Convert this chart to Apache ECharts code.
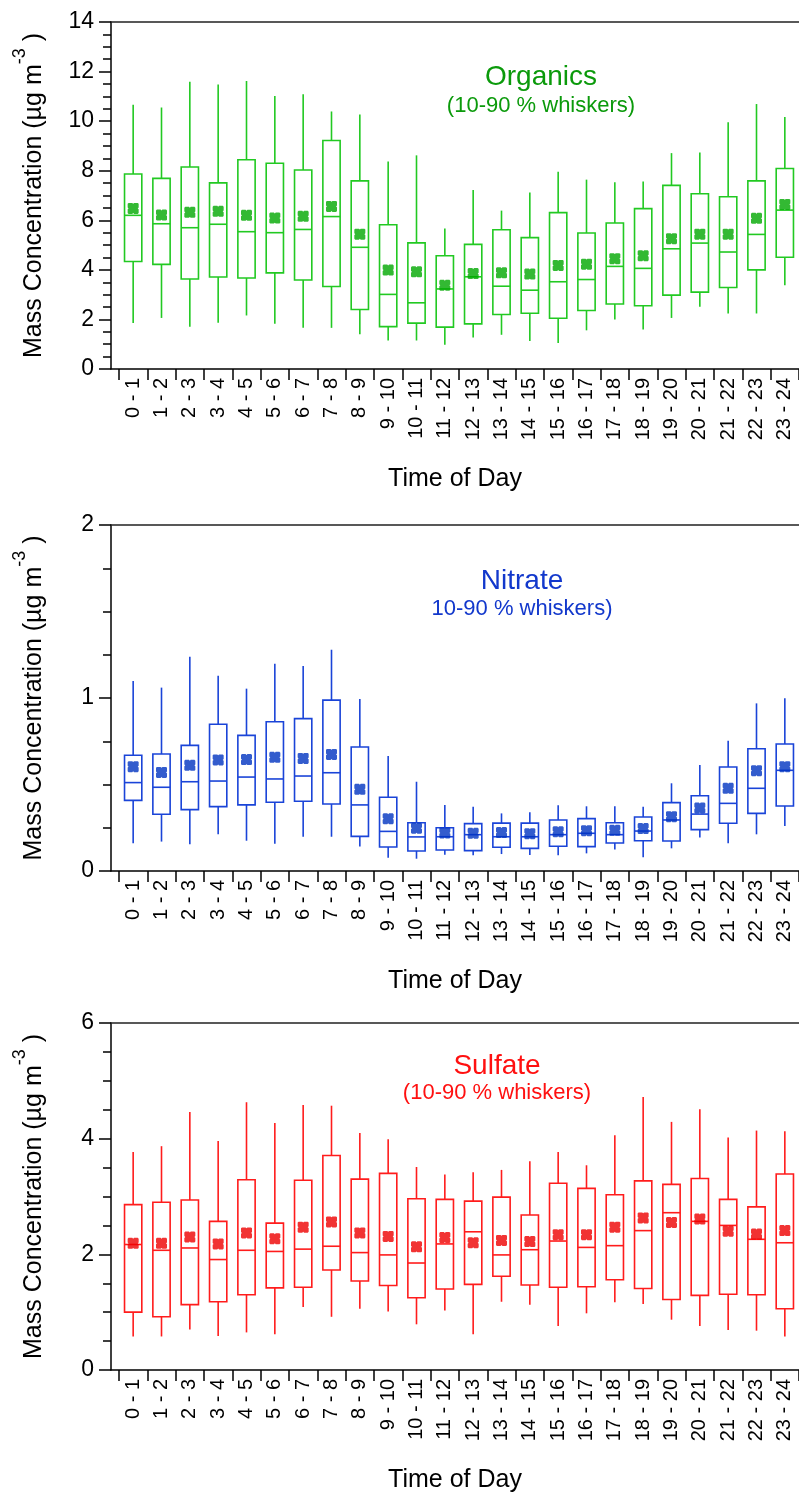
<!DOCTYPE html>
<html>
<head>
<meta charset="utf-8">
<script src="https://cdn.jsdelivr.net/npm/echarts@6/dist/echarts.min.js"></script>
<style>html,body{margin:0;padding:0;background:#fff}#chart{width:799px;height:1495px}</style>
</head>
<body>
<div id="chart"></div>
<script>
// ---------------- data ----------------
const hours = ['0 - 1','1 - 2','2 - 3','3 - 4','4 - 5','5 - 6','6 - 7','7 - 8','8 - 9','9 - 10','10 - 11','11 - 12',
  '12 - 13','13 - 14','14 - 15','15 - 16','16 - 17','17 - 18','18 - 19','19 - 20','20 - 21','21 - 22','22 - 23','23 - 24'];

const orgP90  = [10.66,10.55,11.59,11.48,11.62,11.01,11.09,10.39,10.27,8.37,8.62,5.67,7.22,6.39,7.12,7.96,7.64,7.53,7.56,8.71,8.73,9.96,10.69,10.17];
const orgQ3   = [7.87,7.69,8.15,7.51,8.44,8.30,8.03,9.22,7.59,5.82,5.09,4.57,5.03,5.62,5.30,6.31,5.49,5.89,6.47,7.41,7.07,6.95,7.59,8.09];
const orgMed  = [6.20,5.86,5.70,5.84,5.54,5.50,5.63,6.15,4.91,3.01,2.67,3.23,3.72,3.34,3.18,3.52,3.61,4.14,4.06,4.85,5.08,4.72,5.43,6.41];
const orgQ1   = [4.34,4.22,3.63,3.71,3.67,3.88,3.59,3.33,2.40,1.71,1.85,1.69,1.82,2.20,2.25,2.05,2.36,2.62,2.55,2.98,3.10,3.29,4.00,4.51];
const orgP10  = [1.86,2.06,1.70,1.87,2.16,1.83,1.66,1.66,1.40,1.15,1.15,0.98,1.27,1.38,1.13,1.05,1.56,2.00,1.59,2.06,2.51,2.24,2.24,3.38];
const orgMean = [6.48,6.21,6.32,6.36,6.20,6.09,6.16,6.56,5.44,3.99,3.92,3.38,3.85,3.88,3.83,4.18,4.23,4.45,4.57,5.26,5.44,5.44,6.08,6.64];

const no3P90  = [1.098,1.060,1.239,1.129,1.054,1.198,1.185,1.279,0.994,0.665,0.516,0.382,0.372,0.333,0.339,0.380,0.374,0.374,0.372,0.507,0.613,0.753,0.969,0.998];
const no3Q3   = [0.669,0.676,0.726,0.848,0.784,0.863,0.881,0.988,0.717,0.426,0.279,0.250,0.274,0.277,0.277,0.295,0.303,0.279,0.312,0.395,0.435,0.601,0.707,0.734];
const no3Med  = [0.511,0.484,0.516,0.520,0.543,0.532,0.549,0.568,0.382,0.229,0.197,0.198,0.210,0.198,0.198,0.210,0.218,0.210,0.231,0.295,0.329,0.391,0.478,0.582];
const no3Q1   = [0.408,0.328,0.355,0.372,0.382,0.397,0.403,0.387,0.200,0.139,0.116,0.121,0.118,0.137,0.131,0.143,0.141,0.162,0.175,0.173,0.239,0.276,0.333,0.376];
const no3P10  = [0.160,0.170,0.154,0.212,0.175,0.158,0.198,0.198,0.141,0.077,0.071,0.094,0.091,0.098,0.092,0.091,0.102,0.125,0.079,0.131,0.193,0.160,0.212,0.260];
const no3Mean = [0.603,0.570,0.611,0.642,0.644,0.657,0.651,0.674,0.472,0.302,0.247,0.220,0.218,0.222,0.216,0.227,0.233,0.235,0.245,0.314,0.364,0.478,0.580,0.603];

const so4P90  = [3.77,3.87,4.46,3.96,4.63,4.27,4.58,4.57,4.10,3.99,3.51,3.38,3.42,3.46,3.61,3.77,3.54,4.06,4.72,4.29,4.51,4.02,4.14,4.13];
const so4Q3   = [2.86,2.90,2.94,2.57,3.29,2.54,3.28,3.71,3.30,3.40,2.96,2.95,2.92,2.99,2.68,3.23,3.14,3.03,3.27,3.21,3.31,2.95,2.82,3.39];
const so4Med  = [2.17,2.07,2.11,1.91,2.07,2.05,2.09,2.14,2.03,1.99,1.85,2.18,2.39,1.99,2.08,2.23,2.12,2.15,2.41,2.72,2.57,2.50,2.26,2.20];
const so4Q1   = [1.00,0.92,1.13,1.18,1.30,1.42,1.43,1.73,1.54,1.46,1.25,1.40,1.48,1.62,1.47,1.43,1.44,1.56,1.41,1.22,1.29,1.31,1.30,1.06];
const so4P10  = [0.58,0.58,0.70,0.59,0.65,0.62,1.09,0.92,1.06,1.01,0.79,1.03,0.62,1.18,1.13,0.76,0.98,1.17,1.14,0.87,0.76,0.69,0.68,0.58];
const so4Mean = [2.19,2.19,2.30,2.18,2.37,2.27,2.47,2.56,2.37,2.31,2.13,2.29,2.20,2.24,2.22,2.34,2.34,2.47,2.63,2.55,2.61,2.40,2.35,2.41];

const speciesNames = ['Organics', 'Nitrate', 'Sulfate'];
const subTitles = ['(10-90 % whiskers)', '10-90 % whiskers)', '(10-90 % whiskers)'];
const yMaxes = [14, 2, 6];
const yIntervals = [2, 1, 2];

// ---------------- styling / layout ----------------
const FONT = '"Liberation Sans", Arial, Helvetica, sans-serif';
const boxColors   = ['#22c922', '#1a44d8', '#ff1c1c'];
const markColors  = ['#00a800', '#0033c0', '#ee0000'];
const titleColors = ['#0b9a0b', '#1238cc', '#ff1010'];
const panelTop    = [22, 525, 1023];
const panelHeight = [347, 346, 347];
const titleX      = [541, 522, 497];
const titleY      = [[63, 95], [567, 598], [1052, 1082]];

const stats = [
  [orgP10, orgQ1, orgMed, orgQ3, orgP90, orgMean],
  [no3P10, no3Q1, no3Med, no3Q3, no3P90, no3Mean],
  [so4P10, so4Q1, so4Med, so4Q3, so4P90, so4Mean]
];

const markerPath = 'path://M1,0L5,0L6,1L7,0L11,0L12,1L12,5L11,6L12,7L12,11L11,12L7,12L6,11L5,12L1,12L0,11L0,7L1,6L0,5L0,1Z';

function makeRender(color) {
  return function (params, api) {
    const i = api.value(0);
    const pLo = api.coord([i, api.value(1)]);
    const pQ1 = api.coord([i, api.value(2)]);
    const pMed = api.coord([i, api.value(3)]);
    const pQ3 = api.coord([i, api.value(4)]);
    const pHi = api.coord([i, api.value(5)]);
    const half = api.size([1, 0])[0] * 0.305;
    const cx = pMed[0];
    const st = { stroke: color, lineWidth: 1.6, fill: null };
    return {
      type: 'group',
      children: [
        { type: 'line', shape: { x1: cx, y1: pHi[1], x2: cx, y2: pQ3[1] }, style: st },
        { type: 'line', shape: { x1: cx, y1: pQ1[1], x2: cx, y2: pLo[1] }, style: st },
        { type: 'rect', shape: { x: cx - half, y: pQ3[1], width: 2 * half, height: pQ1[1] - pQ3[1] },
          style: { stroke: color, lineWidth: 1.6, fill: 'rgba(0,0,0,0)' } },
        { type: 'line', shape: { x1: cx - half, y1: pMed[1], x2: cx + half, y2: pMed[1] }, style: st }
      ]
    };
  };
}

const grid = [], xAxis = [], yAxis = [], series = [], graphic = [];
const axisLineStyle = { color: '#000', width: 1.5 };

for (let p = 0; p < 3; p++) {
  const [p10, q1, med, q3, p90, mean] = stats[p];
  grid.push({ left: 119, width: 684, top: panelTop[p], height: panelHeight[p] });
  grid.push({ left: 111, width: 692, top: panelTop[p], height: panelHeight[p] });
  const gA = 2 * p, gB = 2 * p + 1;

  xAxis.push({
    type: 'category', gridIndex: gA, data: hours, boundaryGap: true,
    axisLine: { show: false },
    axisTick: { show: true, length: 11, interval: 0, lineStyle: axisLineStyle },
    axisLabel: { rotate: 90, fontSize: 20, margin: 9, color: '#000', fontFamily: FONT, interval: 0 },
    splitLine: { show: false }
  });
  xAxis.push({
    type: 'value', gridIndex: gB, position: 'bottom', min: 0, max: 1,
    axisLine: { show: true, lineStyle: axisLineStyle },
    axisTick: { show: false }, axisLabel: { show: false }, splitLine: { show: false },
    name: 'Time of Day', nameLocation: 'middle', nameGap: 98,
    nameTextStyle: { fontSize: 25, color: '#000', fontFamily: FONT }
  });
  xAxis.push({
    type: 'value', gridIndex: gB, position: 'top', min: 0, max: 1,
    axisLine: { show: true, lineStyle: { color: '#222', width: 1.5 } },
    axisTick: { show: false }, axisLabel: { show: false }, splitLine: { show: false }
  });

  yAxis.push({ type: 'value', gridIndex: gA, min: 0, max: yMaxes[p], show: false });
  yAxis.push({
    type: 'value', gridIndex: gB, min: 0, max: yMaxes[p], interval: yIntervals[p],
    axisLine: { show: true, lineStyle: axisLineStyle },
    axisTick: { show: true, length: 12, lineStyle: axisLineStyle },
    minorTick: { show: true, splitNumber: 4, length: 8, lineStyle: { color: '#000', width: 1.5 } },
    axisLabel: { fontSize: 23, margin: 17, color: '#000', fontFamily: FONT },
    splitLine: { show: false }, minorSplitLine: { show: false },
    name: '{a|Mass Concentration (µg m}{s|-3}{a| )}',
    nameLocation: 'middle', nameRotate: 90, nameGap: 64,
    nameTextStyle: {
      color: '#000', fontFamily: FONT, fontSize: 25,
      rich: {
        a: { fontSize: 25, color: '#000', fontFamily: FONT, verticalAlign: 'bottom', lineHeight: 36 },
        s: { fontSize: 18, color: '#000', fontFamily: FONT, verticalAlign: 'top', lineHeight: 18 }
      }
    }
  });

  const boxData = hours.map((h, i) => [i, p10[i], q1[i], med[i], q3[i], p90[i]]);
  series.push({
    type: 'custom', name: speciesNames[p], xAxisIndex: 3 * p, yAxisIndex: 2 * p,
    data: boxData, encode: { x: 0, y: [1, 2, 3, 4, 5] },
    renderItem: makeRender(boxColors[p]), silent: true, clip: false
  });
  series.push({
    type: 'scatter', name: speciesNames[p] + ' mean', xAxisIndex: 3 * p, yAxisIndex: 2 * p,
    data: hours.map((h, i) => [i, mean[i]]),
    symbol: markerPath, symbolSize: 11,
    itemStyle: { color: markColors[p] }, z: 5, silent: true
  });

  graphic.push({
    type: 'text', x: titleX[p], y: titleY[p][0],
    style: { text: speciesNames[p], fontSize: 28, fontFamily: FONT, fill: titleColors[p], align: 'center', verticalAlign: 'top' }
  });
  graphic.push({
    type: 'text', x: titleX[p], y: titleY[p][1],
    style: { text: subTitles[p], fontSize: 22, fontFamily: FONT, fill: titleColors[p], align: 'center', verticalAlign: 'top' }
  });
}

const chart = echarts.init(document.getElementById('chart'), null, { renderer: 'canvas' });
chart.setOption({
  backgroundColor: '#fff',
  animation: false,
  grid, xAxis, yAxis, series, graphic
});
</script>
</body>
</html>
